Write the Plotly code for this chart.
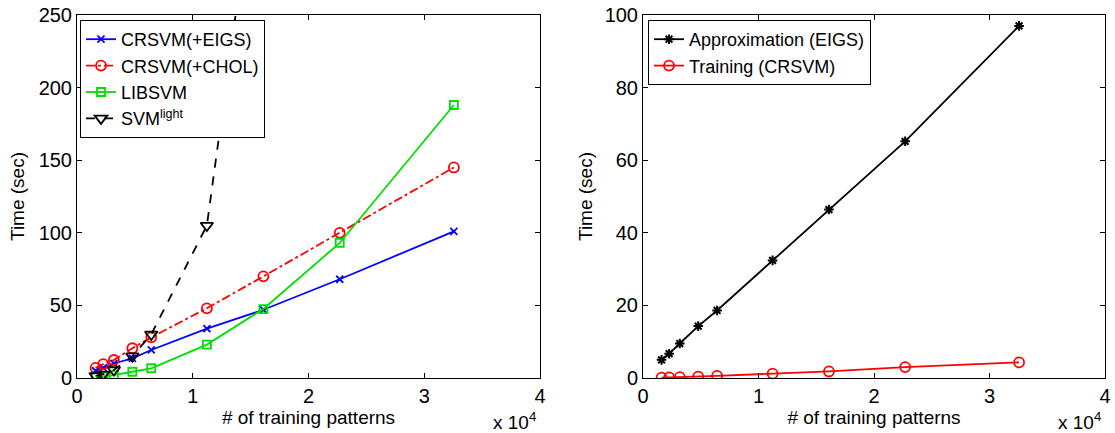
import plotly.graph_objects as go

# Training-set sizes (adult a1a ... a9a)
n_train = [1605, 2265, 3185, 4781, 6414, 11220, 16100, 22696, 32561]

# Left panel: total time (sec)
crsvm_eigs = [5, 7, 10, 13.5, 19.3, 34, 47, 68, 101]
crsvm_chol = [7, 9.6, 12.4, 20.5, 28, 48, 70, 100, 145]
libsvm = [0.5, 1, 2, 4.3, 6.7, 23, 47.5, 93, 188]
svmlight_n = [1605, 2265, 3185, 4781, 6414, 11220, 16100]
svmlight = [1.5, 2.5, 5.5, 15, 30, 105, 390]

# Right panel: time split (sec)
approx_eigs = [5, 6.7, 9.5, 14.3, 18.6, 32.4, 46.4, 65.2, 97]
training_crsvm = [0.1, 0.15, 0.25, 0.4, 0.6, 1.2, 1.8, 3.0, 4.3]

x_tickvals = [0, 10000, 20000, 30000, 40000]
x_ticktext = ["0", "1", "2", "3", "4"]

FONT = "Liberation Sans, Arial, sans-serif"
FS = 20

fig = go.Figure()

fig.add_trace(go.Scatter(
    x=n_train, y=crsvm_eigs, name="CRSVM(+EIGS)", mode="lines+markers",
    line=dict(color="#0000ff", width=1.8),
    marker=dict(symbol="x-thin-open", size=7, color="#0000ff",
                line=dict(color="#0000ff", width=1.8)),
    xaxis="x", yaxis="y", legend="legend"))
fig.add_trace(go.Scatter(
    x=n_train, y=crsvm_chol, name="CRSVM(+CHOL)", mode="lines+markers",
    line=dict(color="#ff0000", width=1.8, dash="dashdot"),
    marker=dict(symbol="circle-open", size=10, color="#ff0000",
                line=dict(color="#ff0000", width=1.8)),
    xaxis="x", yaxis="y", legend="legend"))
fig.add_trace(go.Scatter(
    x=n_train, y=libsvm, name="LIBSVM", mode="lines+markers",
    line=dict(color="#00e000", width=1.8),
    marker=dict(symbol="square-open", size=8, color="#00e000",
                line=dict(color="#00e000", width=1.8)),
    xaxis="x", yaxis="y", legend="legend"))
fig.add_trace(go.Scatter(
    x=svmlight_n, y=svmlight, name="SVM<sup>light</sup>", mode="lines+markers",
    line=dict(color="#000000", width=1.8, dash="dash"),
    marker=dict(symbol="triangle-down-open", size=11, color="#000000",
                line=dict(color="#000000", width=1.8)),
    xaxis="x", yaxis="y", legend="legend"))

fig.add_trace(go.Scatter(
    x=n_train, y=approx_eigs, name="Approximation (EIGS)", mode="lines+markers",
    line=dict(color="#000000", width=1.8),
    marker=dict(symbol="asterisk-open", size=8, color="#000000",
                line=dict(color="#000000", width=2)),
    xaxis="x2", yaxis="y2", legend="legend2"))
fig.add_trace(go.Scatter(
    x=n_train, y=training_crsvm, name="Training (CRSVM)", mode="lines+markers",
    line=dict(color="#ff0000", width=1.8),
    marker=dict(symbol="circle-open", size=10, color="#ff0000",
                line=dict(color="#ff0000", width=1.8)),
    xaxis="x2", yaxis="y2", legend="legend2"))

W, H = 1115, 433
y_dom = [1 - 378 / H, 1 - 15 / H]

axis_common = dict(
    showline=True, linecolor="black", linewidth=1, mirror="ticks",
    ticks="inside", ticklen=5, tickcolor="black", showgrid=False,
    zeroline=False, automargin=False,
    tickfont=dict(family=FONT, size=FS, color="black"),
    title_font=dict(family=FONT, size=FS - 1, color="black"),
)

legend_common = dict(
    bgcolor="white", bordercolor="black", borderwidth=1,
    font=dict(family=FONT, size=18, color="black"),
    xanchor="left", yanchor="top", tracegroupgap=0, itemwidth=30,
)

fig.update_layout(
    width=W, height=H, margin=dict(l=0, r=0, t=0, b=0, autoexpand=False),
    paper_bgcolor="white", plot_bgcolor="white",
    font=dict(family=FONT, size=FS, color="black"),
    xaxis=dict(domain=[77 / W, 540 / W], range=[0, 40000],
               tickvals=x_tickvals, ticktext=x_ticktext,
               title=dict(text="# of training patterns", standoff=0),
               anchor="y", **axis_common),
    yaxis=dict(domain=y_dom, range=[0, 250], tickvals=[0, 50, 100, 150, 200, 250],
               title=dict(text="Time (sec)", standoff=8), anchor="x",
               **axis_common),
    xaxis2=dict(domain=[643 / W, 1105 / W], range=[0, 40000],
                tickvals=x_tickvals, ticktext=x_ticktext,
                title=dict(text="# of training patterns", standoff=0),
                anchor="y2", **axis_common),
    yaxis2=dict(domain=y_dom, range=[0, 100], tickvals=[0, 20, 40, 60, 80, 100],
                title=dict(text="Time (sec)", standoff=6), anchor="x2",
                **axis_common),
    legend=dict(x=80 / W, y=1 - 20 / H, **legend_common),
    legend2=dict(x=648 / W, y=1 - 20 / H, **legend_common),
    showlegend=True,
)

for xr in (540, 1105):
    fig.add_annotation(
        x=(xr - 2) / W, y=1 - 421 / H, xref="paper", yref="paper",
        text="x 10<sup>4</sup>", showarrow=False, xanchor="right", yanchor="middle",
        font=dict(family=FONT, size=FS - 1, color="black"))

fig.write_html("out.html")
